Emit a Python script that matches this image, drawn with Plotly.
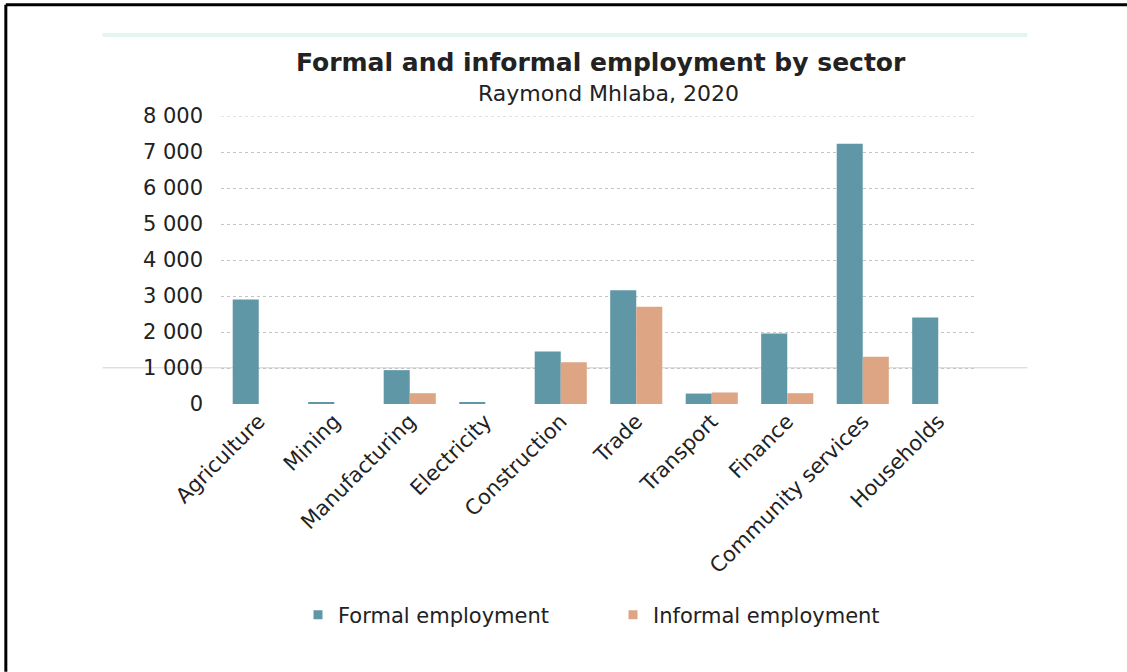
import plotly.graph_objects as go

sectors = ["Agriculture", "Mining", "Manufacturing", "Electricity", "Construction",
           "Trade", "Transport", "Finance", "Community services", "Households"]
formal = [2900, 30, 940, 40, 1460, 3160, 290, 1960, 7230, 2400]
informal = [0, 0, 300, 0, 1160, 2700, 320, 300, 1310, 0]
y_ticks = [0, 1000, 2000, 3000, 4000, 5000, 6000, 7000, 8000]
y_tick_labels = ["0", "1 000", "2 000", "3 000", "4 000", "5 000", "6 000", "7 000", "8 000"]

FONT = "DejaVu Sans"
TEXT = "#222222"
FORMAL_COLOR = "#5f97a6"
INFORMAL_COLOR = "#dda584"
GRID = "#c4c4c4"

fig = go.Figure()
fig.add_trace(go.Bar(x=sectors, y=formal, name="Formal employment", showlegend=False,
                     marker=dict(color=FORMAL_COLOR, line=dict(width=0))))
fig.add_trace(go.Bar(x=sectors, y=informal, name="Informal employment", showlegend=False,
                     marker=dict(color=INFORMAL_COLOR, line=dict(width=0))))

# small square legend keys
for name, color in [("Formal employment", FORMAL_COLOR), ("Informal employment", INFORMAL_COLOR)]:
    fig.add_trace(go.Scatter(x=[None], y=[None], mode="markers", name=name,
                             marker=dict(symbol="square", size=9, color=color)))

fig.update_layout(
    width=1127, height=672,
    margin=dict(l=221, r=151, t=116, b=268),
    paper_bgcolor="white", plot_bgcolor="white",
    barmode="group", bargap=0.31, bargroupgap=0,
    font=dict(family=FONT, color=TEXT),
    showlegend=True,
    legend=dict(orientation="h", x=0.102, xanchor="left", y=-0.733, yanchor="middle",
                font=dict(size=21, color=TEXT, family=FONT),
                entrywidth=270, entrywidthmode="pixels",
                itemwidth=30, bgcolor="rgba(0,0,0,0)"),
    xaxis=dict(tickangle=-45, tickfont=dict(size=21, color=TEXT), showgrid=False,
               showline=False, ticks=""),
    yaxis=dict(range=[0, 8000], tickvals=y_ticks, ticktext=y_tick_labels,
               tickfont=dict(size=21, color=TEXT), showgrid=True,
               gridcolor=GRID, griddash="dot", gridwidth=1,
               zeroline=False, showline=False, ticks="", ticklabelstandoff=17),
    annotations=[
        dict(text="<b>Formal and informal employment by sector</b>", xref="paper", yref="paper",
             x=0.503, y=1, xanchor="center", yanchor="middle", yshift=54,
             showarrow=False, font=dict(size=25, color=TEXT, family=FONT)),
        dict(text="Raymond Mhlaba, 2020", xref="paper", yref="paper",
             x=0.513, y=1, xanchor="center", yanchor="middle", yshift=23,
             showarrow=False, font=dict(size=22, color=TEXT, family=FONT)),
    ],
    shapes=[
        # top gridline at the end of the value range
        dict(type="line", xref="paper", yref="y", x0=0, x1=1, y0=8000, y1=8000,
             line=dict(color=GRID, width=1, dash="dot"), layer="below"),
        # frame around the page
        dict(type="line", xref="paper", yref="paper", x0=-0.285, x1=1.21,
             y0=1.386, y1=1.386, line=dict(color="black", width=3)),
        dict(type="line", xref="paper", yref="paper", x0=-0.285, x1=-0.285,
             y0=1.386, y1=-0.93, line=dict(color="black", width=3)),
        # faint page rules behind the chart
        dict(type="line", xref="paper", yref="paper", x0=-0.157, x1=1.068,
             y0=1.281, y1=1.281, line=dict(color="#e3f5f1", width=4), layer="below"),
        dict(type="line", xref="paper", yref="paper", x0=-0.157, x1=1.068,
             y0=0.1257, y1=0.1257, line=dict(color="#d2d2d2", width=1), layer="below"),
    ],
)

fig.write_html("out.html")
